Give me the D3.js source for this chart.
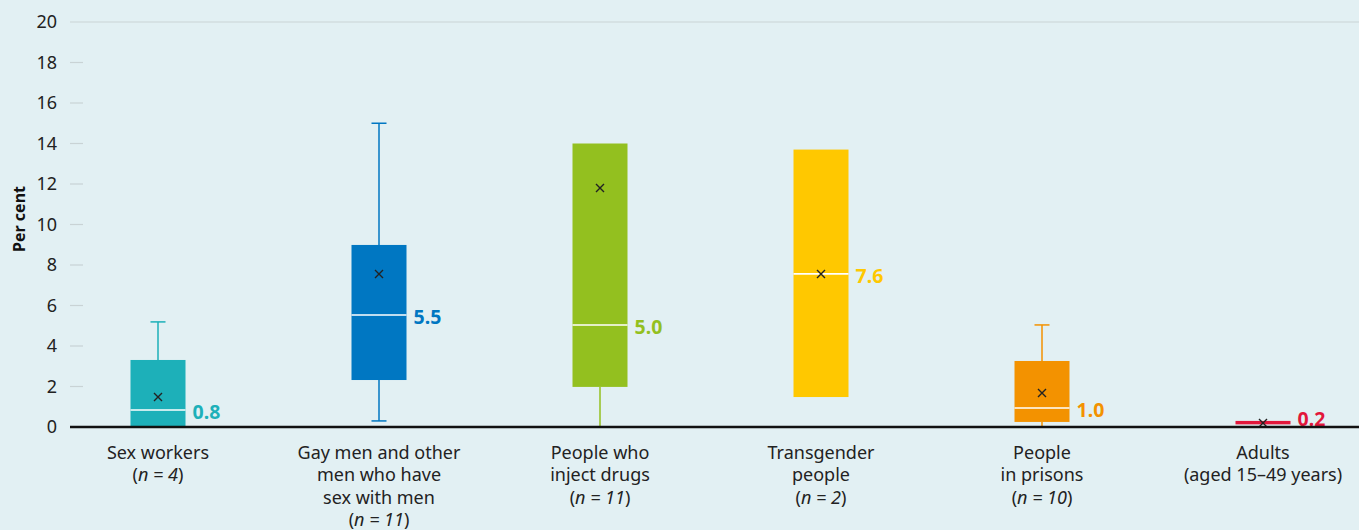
<!DOCTYPE html>
<html><head><meta charset="utf-8">
<script src="https://cdn.jsdelivr.net/npm/d3@7"></script>
<style>
html,body{margin:0;padding:0;background:#e2f0f3;}
svg{display:block;font-family:"Noto Sans","Open Sans",sans-serif;}
</style></head><body>
<svg id="c" width="1359" height="530"></svg>
<script>
const categories = [
  ["Sex workers"],
  ["Gay men and other", "men who have", "sex with men"],
  ["People who", "inject drugs"],
  ["Transgender", "people"],
  ["People", "in prisons"],
  ["Adults", "(aged 15\u201349 years)"]
];
const nValues = ["4", "11", "11", "2", "10", null];
const q1 = [0, 2.32, 1.98, 1.48, 0.25, 0.13];
const q3 = [3.31, 8.99, 14.0, 13.7, 3.26, 0.3];
const medians = [0.84, 5.53, 5.04, 7.56, 0.94, 0.2];
const means = [1.48, 7.56, 11.8, 7.56, 1.68, 0.2];
const whiskerLow = [0, 0.3, 0, 1.48, 0, 0.13];
const whiskerHigh = [5.19, 15.0, 14.0, 13.7, 5.04, 0.3];
const medianLabels = ["0.8", "5.5", "5.0", "7.6", "1.0", "0.2"];
const colors = ["#1db0b9", "#0077c2", "#93c01f", "#ffc800", "#f39200", "#e2173b"];
const yTicks = [0, 2, 4, 6, 8, 10, 12, 14, 16, 18, 20];

const svg = d3.select("#c");
const x = d3.scaleBand().domain(d3.range(categories.length)).range([47.5, 1373.5]).padding(0);
const y = d3.scaleLinear().domain([0, 20]).range([427, 22]);
const bw = 55;
const cx = i => x(i) + x.bandwidth() / 2;

const yAxis = svg.append("g");
yTicks.forEach(t => {
  yAxis.append("text").attr("x", 57).attr("y", y(t)).attr("dy", "0.36em")
    .attr("text-anchor", "end").attr("font-size", 18).attr("fill", "#222").text(t);
  if (t === 20) {
    yAxis.append("line").attr("x1", 70).attr("x2", 1359).attr("y1", y(t)).attr("y2", y(t))
      .attr("stroke", "#c9d3d5").attr("stroke-width", 1.2);
  } else if (t !== 0) {
    yAxis.append("line").attr("x1", 70).attr("x2", 83).attr("y1", y(t)).attr("y2", y(t))
      .attr("stroke", "#c9d3d5").attr("stroke-width", 1.2);
  }
});
svg.append("text").attr("transform", "translate(25,219) rotate(-90)")
  .attr("text-anchor", "middle").attr("font-size", 16).attr("font-weight", "bold")
  .attr("fill", "#111").text("Per cent");

const g = svg.append("g");
categories.forEach((c, i) => {
  const col = colors[i];
  const xc = cx(i);
  if (whiskerHigh[i] > q3[i]) {
    g.append("line").attr("x1", xc).attr("x2", xc).attr("y1", y(q3[i])).attr("y2", y(whiskerHigh[i]))
      .attr("stroke", col).attr("stroke-width", 1.5);
    g.append("line").attr("x1", xc - 7.5).attr("x2", xc + 7.5).attr("y1", y(whiskerHigh[i])).attr("y2", y(whiskerHigh[i]))
      .attr("stroke", col).attr("stroke-width", 1.5);
  }
  if (whiskerLow[i] < q1[i]) {
    g.append("line").attr("x1", xc).attr("x2", xc).attr("y1", y(q1[i])).attr("y2", y(whiskerLow[i]))
      .attr("stroke", col).attr("stroke-width", 1.5);
    g.append("line").attr("x1", xc - 7.5).attr("x2", xc + 7.5).attr("y1", y(whiskerLow[i])).attr("y2", y(whiskerLow[i]))
      .attr("stroke", col).attr("stroke-width", 1.5);
  }
  g.append("rect").attr("x", xc - bw / 2).attr("width", bw)
    .attr("y", y(q3[i])).attr("height", y(q1[i]) - y(q3[i])).attr("fill", col);
  if (i < categories.length - 1) {
    g.append("line").attr("x1", xc - bw / 2).attr("x2", xc + bw / 2).attr("y1", y(medians[i])).attr("y2", y(medians[i]))
      .attr("stroke", "#fff").attr("stroke-width", 1.6);
  }
  const my = y(means[i]), s = 4;
  g.append("path").attr("d", `M${xc - s},${my - s}L${xc + s},${my + s}M${xc - s},${my + s}L${xc + s},${my - s}`)
    .attr("stroke", "#222").attr("stroke-width", 1.4);
  g.append("text").attr("x", xc + bw / 2 + 7).attr("y", Math.min(y(medians[i]), y(0) - 10) + 2)
    .attr("dy", "0.36em").attr("font-size", 19.5).attr("font-weight", "bold").attr("fill", col)
    .text(medianLabels[i]);
  const t = svg.append("text").attr("text-anchor", "middle").attr("font-size", 18)
    .attr("fill", "#222");
  c.forEach((ln, k) => {
    t.append("tspan").attr("x", xc).attr("y", 459 + k * 22.3).text(ln);
  });
  if (nValues[i] !== null) {
    t.append("tspan").attr("x", xc).attr("y", 459 + c.length * 22.3).text("(");
    t.append("tspan").attr("font-style", "italic").text("n = " + nValues[i]);
    t.append("tspan").text(")");
  }
});

svg.append("line").attr("x1", 70).attr("x2", 1359).attr("y1", y(0)).attr("y2", y(0))
  .attr("stroke", "#111").attr("stroke-width", 2.6);
</script>
</body></html>
